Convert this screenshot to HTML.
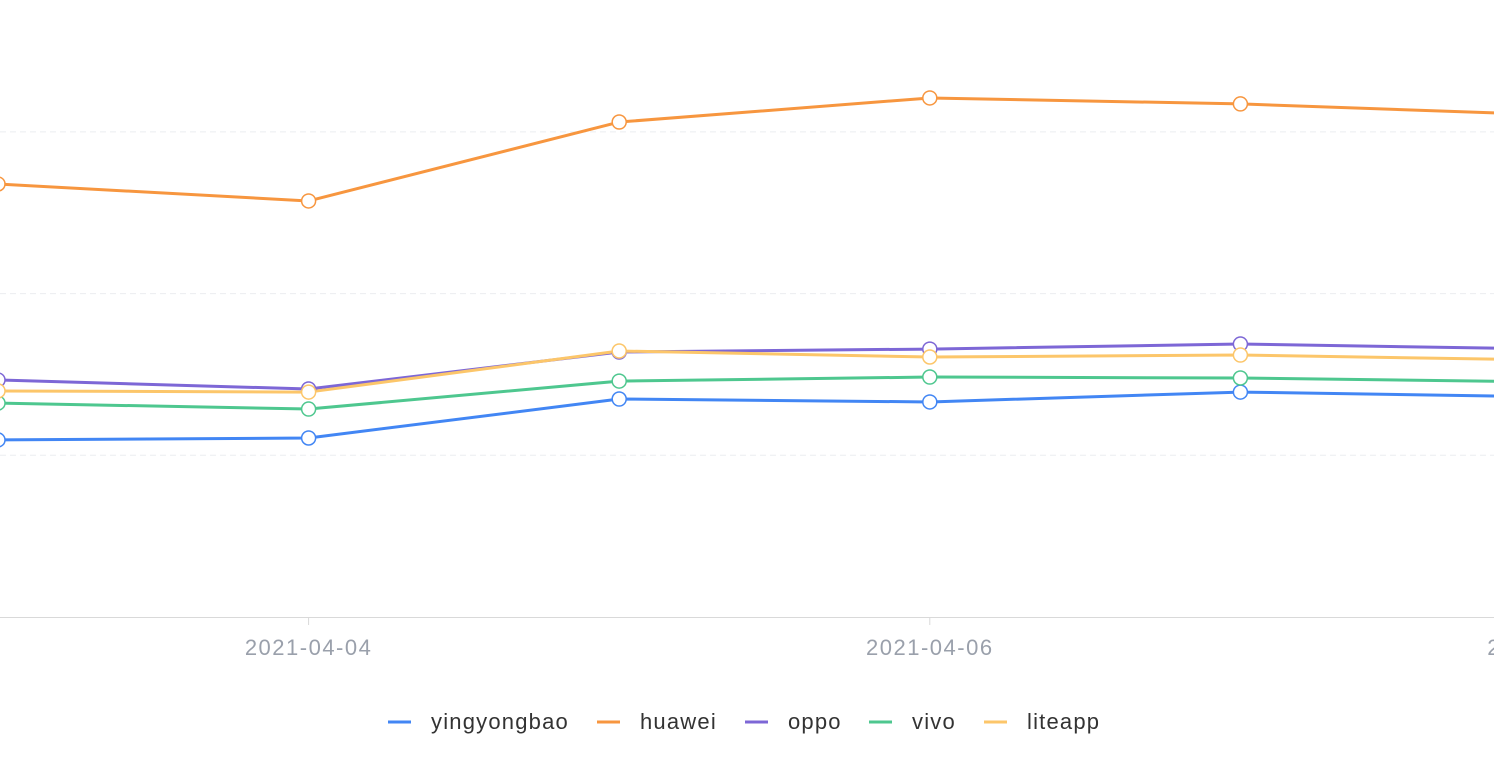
<!DOCTYPE html>
<html><head><meta charset="utf-8">
<style>
html,body{margin:0;padding:0;background:#fff;}
svg{display:block;font-family:"Liberation Sans",sans-serif;}
</style></head>
<body>
<svg id="chart" width="1494" height="784"></svg>
<script>
const categories = ["2021-04-03","2021-04-04","2021-04-05","2021-04-06","2021-04-07","2021-04-08"];
const tickLabels = ["2021-04-04","2021-04-06","2021-04-08"];
const yingyongbao = [1095,1107,1348,1330,1391,1361];
const huawei = [2678,2573,3061,3210,3173,3105];
const oppo = [1466,1410,1639,1657,1688,1657];
const vivo = [1323,1286,1459,1484,1478,1453];
const liteapp = [1398,1391,1645,1608,1620,1589];
const seriesNames = ["yingyongbao","huawei","oppo","vivo","liteapp"];
const gridValues = [1000,2000,3000];

const colors = ["#4286f4","#f7963f","#7d67d6","#4ec78f","#fcc66a"];
const data = [yingyongbao,huawei,oppo,vivo,liteapp];
const NS="http://www.w3.org/2000/svg";
const svg=document.getElementById('chart');
function x(i){return -2 + i*310.6;}
function y(v){return 617 - v*0.1617;}
function mk(tag,attrs,parent){const e=document.createElementNS(NS,tag);for(const k in attrs)e.setAttribute(k,attrs[k]);(parent||svg).appendChild(e);return e;}

gridValues.forEach(v=>{
  const g=mk('line',{x1:0,x2:1494,y1:y(v),y2:y(v),stroke:'#ebedf0','stroke-dasharray':'6 4','stroke-width':1});
  
  
});
const ax=mk('line',{x1:0,x2:1494,y1:617.5,y2:617.5,stroke:'#d9d9d9','stroke-width':1});



categories.forEach((c,i)=>{
  if(tickLabels.includes(c)){
    const t=mk('line',{x1:x(i),x2:x(i),y1:617,y2:625,stroke:'#d9d9d9'});
    
    
    const l=mk('text',{x:x(i),y:655,'text-anchor':'middle','font-size':22,'letter-spacing':1.5,fill:'#9aa0ab'});
    l.textContent=c;
    
    
  }
});

data.forEach((s,k)=>{
  const p=mk('polyline',{points:s.map((v,i)=>x(i)+','+y(v)).join(' '),fill:'none',stroke:colors[k],'stroke-width':3,'stroke-linejoin':'round'});
  
  
});
data.forEach((s,k)=>{
  s.forEach((v,i)=>{
    const c=mk('circle',{cx:x(i),cy:y(v),r:7,fill:'#fff',stroke:colors[k],'stroke-width':1.5});
    
    
  });
});

const legendX=[388,597,745,869,984];
seriesNames.forEach((n,k)=>{
  const g=mk('g',{});
  
  
  mk('line',{x1:legendX[k],x2:legendX[k]+23,y1:722,y2:722,stroke:colors[k],'stroke-width':3},g);
  const t=mk('text',{x:legendX[k]+43,y:729,'font-size':22,'letter-spacing':1.2,fill:'#333'},g);
  t.textContent=n;
});
</script>
</body></html>
